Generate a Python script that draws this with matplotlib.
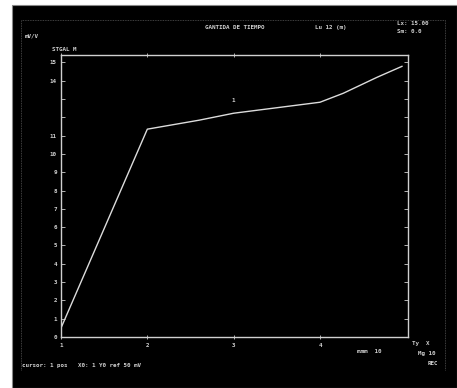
import matplotlib
matplotlib.use('Agg')
import matplotlib.pyplot as plt
from matplotlib.patches import Rectangle

# trace
Xvals   = [1.0, 2.0, 2.6, 3.0, 4.0, 4.27, 4.66, 4.95]
Yvals   = [0.49, 11.35, 11.84, 12.22, 12.82, 13.31, 14.18, 14.78]
Xticks  = [1, 2, 3, 4]
Yticks  = list(range(0, 16))
Ylabels = ['0', '1', '2', '3', '4', '5', '6', '7', '8', '9', '10', '11', '', '', '14', '15']

W, H = 457, 388
fg = '#d0d0d0'
txt = dict(color=fg, fontsize=4.2, family='DejaVu Sans Mono', fontweight='bold')

fig = plt.figure(figsize=(W/100, H/100), dpi=100)
fig.patch.set_facecolor('white')

# black screen + inner frame
fig.patches.append(Rectangle((12/W, 0), 1 - 12/W, 1 - 5/H, transform=fig.transFigure,
                             facecolor='black', edgecolor='#888888', lw=0.8, zorder=-10))
fig.lines.append(plt.Line2D([21/W, 21/W, 445/W, 445/W], [1 - 370/H, 1 - 20/H, 1 - 20/H, 1 - 370/H],
                            transform=fig.transFigure, color='#555555', lw=0.6, ls=(0, (1, 1)), zorder=-5))

ax = fig.add_axes([61/W, 1 - 337/H, (408-61)/W, (337-55)/H])
ax.set_facecolor('black')
ax.plot(Xvals, Yvals, color='#dcdcdc', lw=1.0)
ax.text(3.0, 12.77, '1', ha='center', va='bottom', **txt)

ax.set_xlim(1, 5.02)
ax.set_ylim(0, 15.4)
ax.set_xticks(Xticks)
ax.set_xticklabels([str(v) for v in Xticks], **txt)
ax.set_yticks(Yticks)
ax.set_yticklabels(Ylabels, **txt)
ax.tick_params(colors=fg, length=3, width=0.6, direction='inout', pad=3,
               top=True, right=True)
ax.tick_params(axis='y', right=True, direction='in')
for s in ax.spines.values():
    s.set_color(fg)
    s.set_linewidth(1.0)

# screen annotations
fig.text(52/W, 1 - 51/H, 'STGAL M', **txt)
fig.text(25/W, 1 - 37/H, 'mV/V', **txt)
fig.text(205/W, 1 - 29/H, 'GANTIDA DE TIEMPO', **txt)
fig.text(315/W, 1 - 29/H, 'Lu 12 (m)', **txt)
fig.text(397/W, 1 - 25/H, 'Lx: 15.00', **txt)
fig.text(397/W, 1 - 33/H, 'Sm: 0.0', **txt)
fig.text(22/W, 1 - 367/H, 'cursor: 1 pos   X0: 1 Y0 ref 50 mV', **txt)
fig.text(357/W, 1 - 353/H, 'mmm  10', **txt)
fig.text(412/W, 1 - 345/H, 'Ty  X', **txt)
fig.text(418/W, 1 - 355/H, 'Mg 10', **txt)
fig.text(428/W, 1 - 365/H, 'REC', **txt)

fig.savefig('out.png', dpi=100, facecolor=fig.get_facecolor())
